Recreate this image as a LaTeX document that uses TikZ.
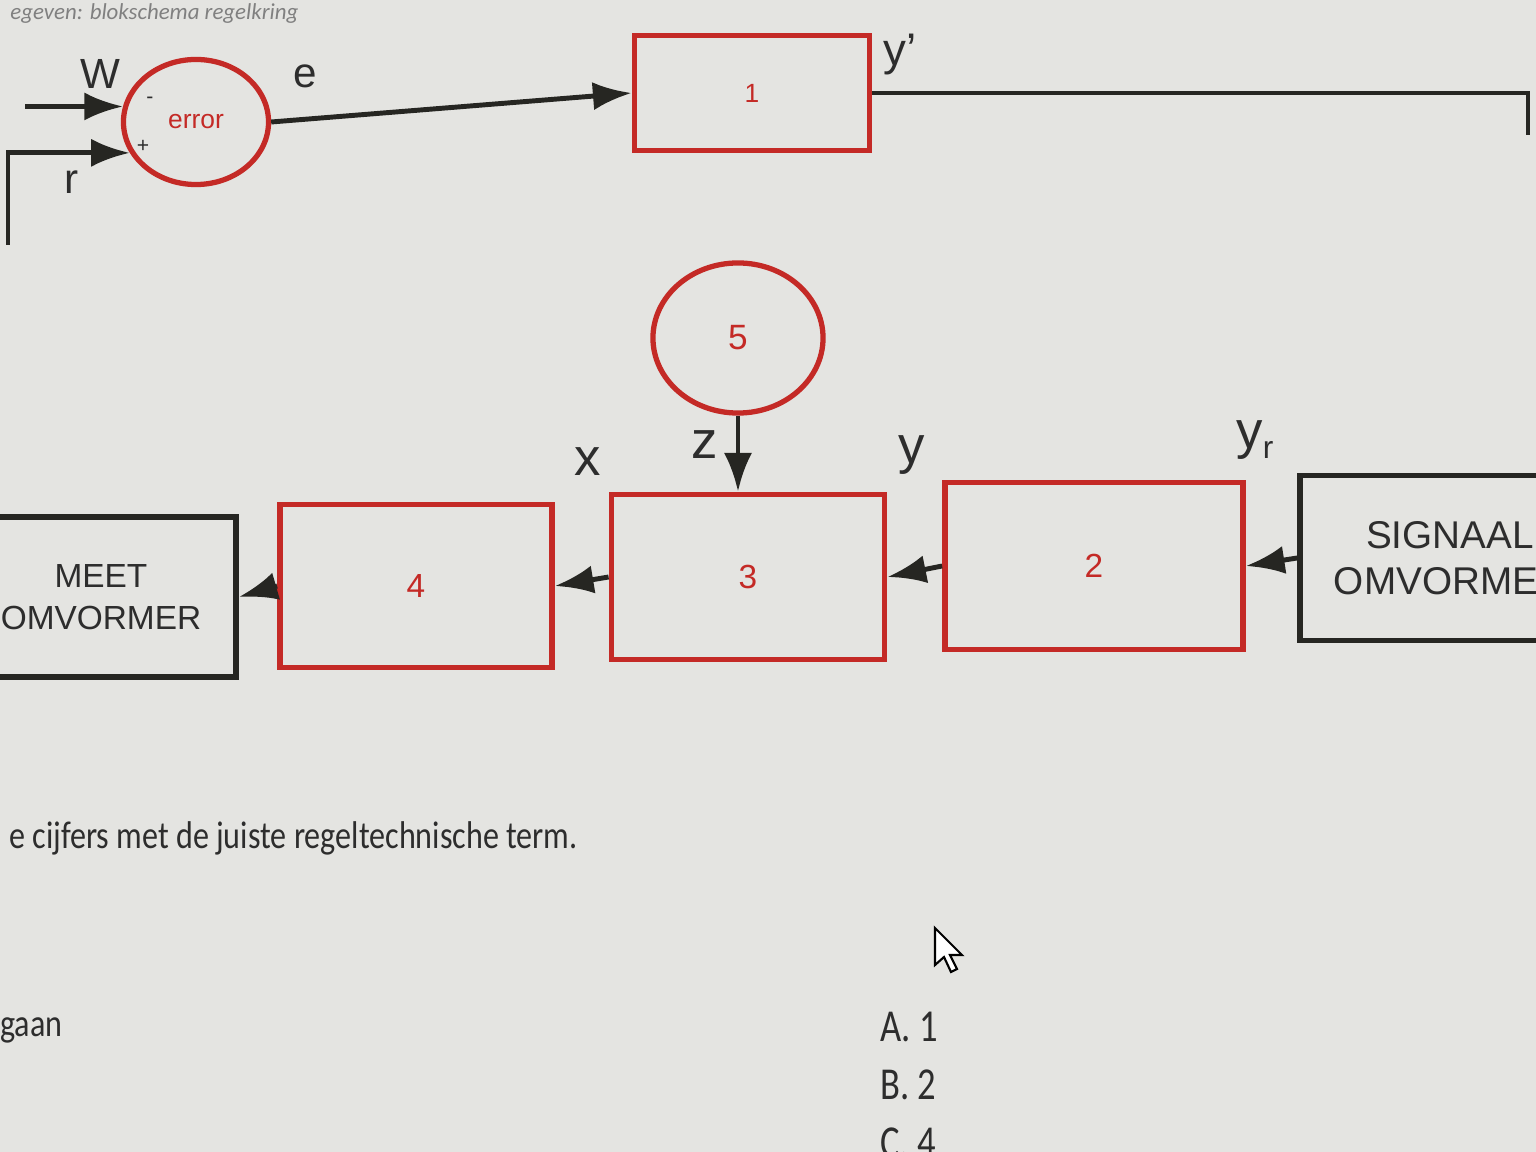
\documentclass[tikz,border=0pt]{standalone}
\usepackage{fontspec}
\setmainfont{Liberation Sans}
\newfontfamily\schermfont{Carlito}
\usetikzlibrary{arrows.meta}
\usetikzlibrary{shapes.geometric}
\definecolor{blokrood}{RGB}{196,42,38}
\definecolor{blokzwart}{RGB}{38,38,34}
\definecolor{scherm}{RGB}{228,228,225}
\definecolor{inkt}{RGB}{45,45,45}

\begin{document}
\begin{tikzpicture}[x=0.01cm,y=-0.01cm,
      every node/.style={text=inkt,font=\fontsize{12}{14}\selectfont},
      label/.style={font=\fontsize{15}{17}\selectfont},
      blok/.style={shape=rectangle,draw=blokrood,line width=1.6pt,text=blokrood,font=\fontsize{9.5}{11}\selectfont},
      omvormer/.style={shape=rectangle,draw=blokzwart,line width=1.6pt,align=center,text=inkt},
      rondje/.style={shape=ellipse,draw=blokrood,line width=1.5pt,text=blokrood},
      tekst/.style={anchor=west,font=\schermfont\fontsize{11}{13}\selectfont},
      keuze/.style={anchor=west,font=\schermfont\fontsize{13}{15}\selectfont},
      pijl/.style={-{Latex[length=11pt,width=8pt]},line width=1.4pt,draw=blokzwart},
      lijn/.style={line width=1.4pt,draw=blokzwart}]
  \fill[scherm] (0,0) rectangle (1536,1152);
  \useasboundingbox (0,0) rectangle (1536,1152);
  \clip (0,0) rectangle (1536,1152);
  \node[anchor=west,text=gray,font=\schermfont\itshape\fontsize{6.5}{8}\selectfont] (kop) at (-2,14) {egeven: blokschema regelkring};
  \node[rondje,minimum width=1.45cm,minimum height=1.25cm,font=\fontsize{7.5}{9}\selectfont] (err) at (196,122) {error};
  \node[blok,minimum width=2.35cm,minimum height=1.15cm,font=\fontsize{7.5}{9}\selectfont] (een) at (752,93) {1};
  \node[rondje,minimum width=1.7cm,minimum height=1.5cm,font=\fontsize{10}{12}\selectfont] (vijf) at (738,338) {5};
  \node[blok,minimum width=2.73cm,minimum height=1.65cm] (drie) at (748,577) {3};
  \node[blok,minimum width=2.98cm,minimum height=1.67cm] (twee) at (1094,566) {2};
  \node[blok,minimum width=2.72cm,minimum height=1.63cm] (vier) at (416,586) {4};
  \node[omvormer,minimum width=2.7cm,minimum height=1.6cm,font=\fontsize{9.5}{12}\selectfont] (meet) at (101,597) {MEET\\OMVORMER};
  \node[omvormer,minimum width=3cm,minimum height=1.65cm,font=\fontsize{11}{13}\selectfont] (signaal) at (1450,558) {SIGNAAL\\OMVORMER};
  \coordinate (win) at (25,0);
  \coordinate (links) at (8,245);
  \coordinate (rechts) at (1528,135);
  \draw[pijl] (win |- err.168) -- (err.168);
  \draw[pijl] (links) |- (err.205);
  \draw[pijl] (err.east) -- (een.west);
  \draw[lijn] (een.east) -- (een.east -| rechts) -- (rechts);
  \draw[pijl] (vijf.south) -- (vijf.south |- drie.north);
  \draw[pijl] (signaal.west) -- (twee.east);
  \draw[pijl] (twee.west) -- (drie.east);
  \draw[pijl] (drie.west) -- (vier.east);
  \draw[pijl] (vier.west) -- (meet.east);
  \node (lw) at (100,74) {W};
  \node (le) at (305,76) {e};
  \node (lr) at (72,182) {r};
  \node[font=\fontsize{6}{7}\selectfont] (lmin) at (150,100) {-};
  \node[font=\fontsize{6}{7}\selectfont] (lplus) at (143,146) {+};
  \node[font=\fontsize{13}{15}\selectfont] (lyacc) at (900,55) {y’};
  \node[label] (lx) at (588,462) {x};
  \node[label] (lz) at (705,445) {z};
  \node[label] (ly) at (912,455) {y};
  \node[label] (lyr) at (1255,440) {y\raisebox{-0.35ex}{\fontsize{9}{10}\selectfont r}};
  \node[tekst] (opdracht) at (-3,838) {\scalebox{0.83}[1]{e cijfers met de juiste regeltechnische term.}};
  \node[tekst] (gaan) at (-12,1030) {\scalebox{0.83}[1]{gaan}};
  \node[keuze] (ka) at (868,1027) {\scalebox{0.8}[1]{A. 1}};
  \node[keuze] (kb) at (868,1085) {\scalebox{0.8}[1]{B. 2}};
  \node[keuze] (kc) at (868,1143) {\scalebox{0.8}[1]{C. 4}};
  \draw[fill=white,draw=black,line width=0.6pt] (935,928) -- (935,965) -- (944,957) -- (951,972) -- (957,969) -- (950,955) -- (962,955) -- cycle;
\end{tikzpicture}
\end{document}
